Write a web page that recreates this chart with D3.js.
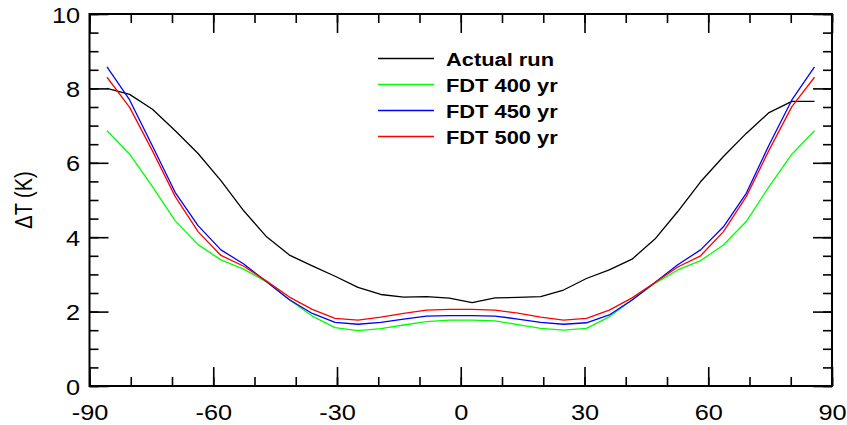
<!DOCTYPE html>
<html><head><meta charset="utf-8">
<script src="https://cdn.jsdelivr.net/npm/d3@7"></script>
<style>body{margin:0;background:#fff}svg{display:block}text{font-family:"Liberation Sans",Arial,sans-serif}</style>
</head><body>
<script>
const latitudes = [-85.76,-80.27,-74.74,-69.21,-63.68,-58.14,-52.61,-47.07,-41.53,-36.00,-30.46,-24.92,-19.38,-13.84,-8.31,-2.77,2.77,8.31,13.84,19.38,24.92,30.46,36.00,41.53,47.07,52.61,58.14,63.68,69.21,74.74,80.27,85.76];
const actualRun = [8.00,7.84,7.44,6.86,6.25,5.52,4.71,4.01,3.52,3.23,2.95,2.65,2.46,2.39,2.40,2.36,2.24,2.37,2.38,2.40,2.58,2.89,3.12,3.41,3.95,4.69,5.49,6.17,6.79,7.35,7.65,7.65];
const fdt400 = [6.86,6.23,5.36,4.44,3.80,3.39,3.14,2.80,2.32,1.88,1.57,1.49,1.54,1.64,1.73,1.77,1.77,1.75,1.65,1.55,1.50,1.55,1.86,2.31,2.76,3.12,3.37,3.79,4.42,5.36,6.23,6.86];
const fdt450 = [8.58,7.69,6.45,5.20,4.31,3.66,3.28,2.80,2.32,1.95,1.71,1.66,1.71,1.80,1.88,1.89,1.89,1.88,1.80,1.71,1.66,1.70,1.91,2.31,2.78,3.26,3.66,4.28,5.18,6.48,7.69,8.58];
const fdt500 = [8.30,7.49,6.32,5.09,4.15,3.51,3.22,2.82,2.39,2.06,1.82,1.77,1.85,1.95,2.04,2.06,2.06,2.04,1.96,1.85,1.77,1.82,2.04,2.37,2.78,3.20,3.50,4.15,5.09,6.34,7.51,8.30];
const seriesNames = ["Actual run","FDT 400 yr","FDT 450 yr","FDT 500 yr"];
const seriesColors = ["#000000","#00ff00","#0000ff","#ff0000"];
const xMajorTicks = [-90,-60,-30,0,30,60,90];
const xMinorTicks = d3.range(-90,91,10);
const yMajorTicks = [0,2,4,6,8,10];
const yMinorTicks = d3.range(0,10.01,0.5);
const yTitle = "ΔT (K)";

const W = 847, H = 425;
const L = 89.5, R = 832, T = 14, B = 386;
const SX = 1.15; // horizontal stretch of the reference lettering
const svg = d3.select("body").append("svg").attr("width",W).attr("height",H);
const x = d3.scaleLinear().domain([-90,90]).range([L,R]);
const y = d3.scaleLinear().domain([0,10]).range([B,T]);

const allSeries = [actualRun, fdt400, fdt450, fdt500];
const line = d3.line().x((d,i)=>x(latitudes[i])).y(d=>y(d));
const gl = svg.append("g");
allSeries.forEach((s,k)=>{
  gl.append("path").datum(s).attr("d",line).attr("fill","none")
    .attr("stroke",seriesColors[k]).attr("stroke-width",1.3).attr("stroke-linejoin","round");
});

const fmt = d => String(d);
function styleAxis(g){ g.select(".domain").remove(); g.selectAll("line").attr("stroke","#000").attr("stroke-width",1.6); }
// bottom
svg.append("g").attr("transform",`translate(0,${B})`).call(d3.axisBottom(x).tickValues(xMinorTicks).tickSize(-9).tickFormat("")).call(styleAxis);
svg.append("g").attr("transform",`translate(0,${B})`).call(d3.axisBottom(x).tickValues(xMajorTicks).tickSize(-19).tickFormat(fmt)).call(styleAxis)
  .selectAll("text").attr("font-size",22).attr("fill","#000").attr("dy",0).attr("y",34)
  .attr("transform",`scale(${SX},1)`);
// top
svg.append("g").attr("transform",`translate(0,${T})`).call(d3.axisTop(x).tickValues(xMinorTicks).tickSize(-9).tickFormat("")).call(styleAxis);
svg.append("g").attr("transform",`translate(0,${T})`).call(d3.axisTop(x).tickValues(xMajorTicks).tickSize(-19).tickFormat("")).call(styleAxis);
// left
svg.append("g").attr("transform",`translate(${L},0)`).call(d3.axisLeft(y).tickValues(yMinorTicks).tickSize(-9).tickFormat("")).call(styleAxis);
svg.append("g").attr("transform",`translate(${L},0)`).call(d3.axisLeft(y).tickValues(yMajorTicks).tickSize(-19).tickFormat(fmt)).call(styleAxis)
  .selectAll("text").attr("font-size",22).attr("fill","#000").attr("x",-9.5/SX).attr("dy","0.37em")
  .attr("transform",`scale(${SX},1)`);
// right
svg.append("g").attr("transform",`translate(${R},0)`).call(d3.axisRight(y).tickValues(yMinorTicks).tickSize(-9).tickFormat("")).call(styleAxis);
svg.append("g").attr("transform",`translate(${R},0)`).call(d3.axisRight(y).tickValues(yMajorTicks).tickSize(-19).tickFormat("")).call(styleAxis);

svg.append("rect").attr("x",L).attr("y",T).attr("width",R-L).attr("height",B-T)
  .attr("fill","none").attr("stroke","#000").attr("stroke-width",2);

svg.append("text").attr("transform",`translate(32,${(T+B)/2}) rotate(-90) scale(1,${SX})`)
  .attr("text-anchor","middle").attr("font-size",20).text(yTitle);

const lg = svg.append("g");
seriesNames.forEach((n,k)=>{
  const yy = 58.5 + k*26;
  lg.append("line").attr("x1",378).attr("x2",434).attr("y1",yy).attr("y2",yy)
    .attr("stroke",seriesColors[k]).attr("stroke-width",1.3);
  lg.append("text").attr("transform",`translate(446,${yy}) scale(${SX},1)`).attr("dy","0.37em")
    .attr("font-size",19).attr("font-weight","bold").text(n);
});
</script>
</body></html>
